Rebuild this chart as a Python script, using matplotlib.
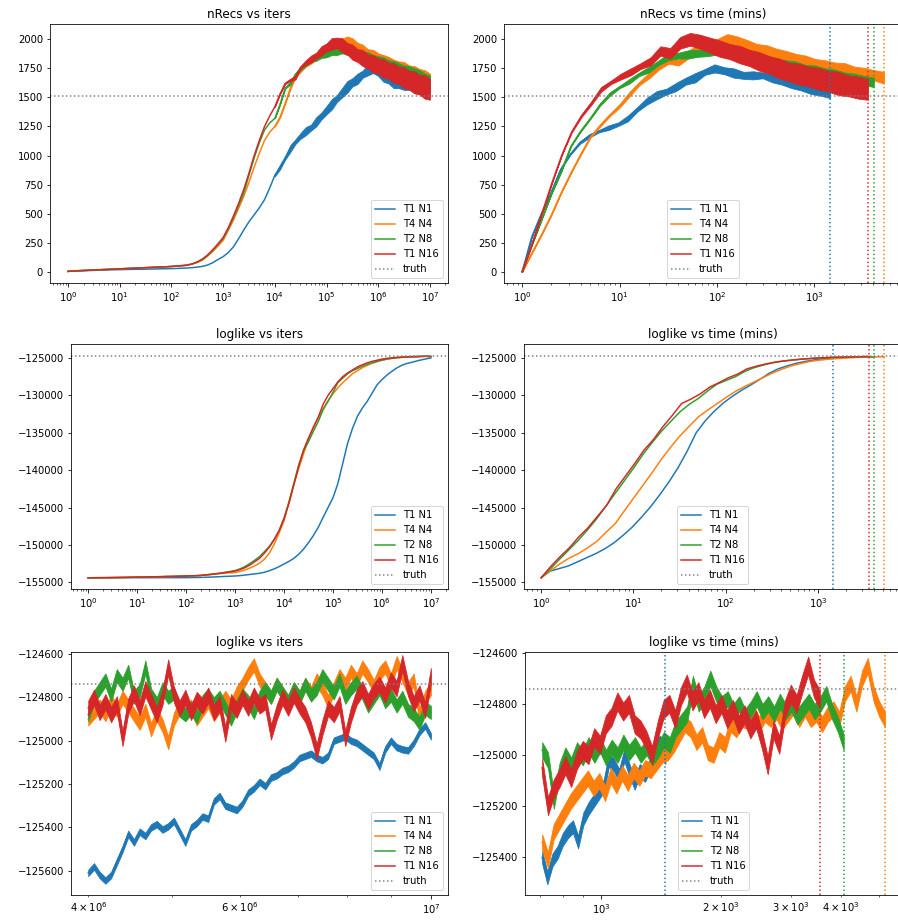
import numpy as np
import matplotlib.pyplot as plt

runs = ['T1 N1', 'T4 N4', 'T2 N8', 'T1 N16']
colors = ['C0', 'C1', 'C2', 'C3']
end_time = [1449, 5165, 4067, 3541]   # mins, end of each run
truth_nrecs = 1510
truth_loglike = -124740

# ---- nRecs vs iters: one value every 0.1 decade, 10^0 .. 10^7
nrecs_iter = [
    [3, 5, 6, 8, 10, 12, 13, 14, 16, 17,
     18, 19, 20, 21, 21, 22, 23, 24, 25, 26,
     27, 28, 30, 32, 35, 40, 46, 58, 78, 105,
     130, 165, 215, 285, 360, 430, 490, 550, 620, 720,
     830, 900, 980, 1060, 1120, 1170, 1210, 1240, 1290, 1340,
     1390, 1440, 1490, 1540, 1590, 1630, 1660, 1700, 1740, 1750,
     1720, 1680, 1650, 1630, 1620, 1610, 1600, 1590, 1580, 1575,
     1570],
    [3, 6, 9, 11, 13, 15, 17, 19, 21, 23,
     25, 27, 29, 31, 33, 35, 37, 39, 41, 43,
     45, 48, 51, 55, 65, 80, 100, 135, 175, 220,
     270, 355, 445, 545, 650, 770, 900, 1020, 1130, 1200,
     1250, 1330, 1450, 1580, 1680, 1740, 1780, 1820, 1850, 1890,
     1920, 1930, 1940, 1960, 1990, 1960, 1930, 1910, 1880, 1860,
     1840, 1820, 1800, 1785, 1765, 1750, 1735, 1720, 1700, 1680,
     1660],
    [3, 6, 9, 11, 13, 15, 17, 19, 21, 23,
     25, 27, 29, 31, 33, 35, 37, 39, 41, 43,
     45, 48, 52, 56, 66, 82, 105, 140, 185, 235,
     285, 370, 465, 570, 680, 830, 980, 1110, 1220, 1280,
     1320, 1440, 1580, 1620, 1700, 1750, 1790, 1820, 1840, 1860,
     1875, 1890, 1900, 1910, 1905, 1890, 1875, 1860, 1845, 1830,
     1815, 1800, 1785, 1770, 1755, 1740, 1725, 1710, 1690, 1670,
     1650],
    [3, 6, 9, 11, 13, 15, 17, 19, 21, 23,
     25, 27, 29, 31, 33, 35, 37, 39, 41, 43,
     46, 49, 53, 57, 68, 85, 110, 145, 190, 240,
     295, 380, 480, 590, 710, 850, 1000, 1130, 1250, 1340,
     1420, 1530, 1620, 1650, 1670, 1760, 1800, 1830, 1860, 1900,
     1930, 1960, 1970, 1950, 1920, 1890, 1860, 1840, 1810, 1790,
     1770, 1750, 1730, 1710, 1690, 1670, 1650, 1630, 1610, 1590,
     1570],
]
# half width of the noisy band, last 31 points (10^4 .. 10^7)
nrecs_iter_band = [
    [10, 20, 15, 30, 20, 25, 35, 25, 40, 30, 35, 45, 30, 40, 50, 35,
     45, 30, 50, 40, 35, 45, 30, 50, 40, 45, 35, 50, 40, 45, 35],
    [0, 0, 5, 10, 10, 20, 15, 30, 25, 35, 30, 40, 35, 45, 35, 50,
     40, 45, 35, 50, 40, 45, 50, 40, 45, 55, 40, 50, 45, 55, 45],
    [0, 0, 5, 10, 10, 15, 20, 15, 25, 20, 30, 25, 35, 30, 40, 30,
     40, 35, 45, 35, 40, 45, 35, 45, 40, 35, 45, 40, 45, 35, 40],
    [0, 0, 5, 10, 15, 10, 20, 30, 25, 40, 35, 50, 45, 60, 50, 65,
     55, 70, 60, 75, 65, 80, 70, 85, 75, 90, 80, 95, 85, 100, 90],
]

# ---- nRecs vs time: ~0.1 decade steps from 1 min to end_time
nrecs_time = [
    [0, 300, 500, 680, 880, 1010, 1110, 1170, 1210, 1240,
     1270, 1320, 1400, 1470, 1520, 1550, 1590, 1640, 1670, 1720,
     1750, 1730, 1710, 1690, 1690, 1690, 1670, 1640, 1615, 1590,
     1570, 1545, 1530],
    [0, 160, 320, 490, 680, 850, 1010, 1160, 1260, 1350,
     1430, 1530, 1620, 1690, 1760, 1820, 1800, 1870, 1920, 1950,
     1970, 2000, 1990, 1950, 1920, 1900, 1880, 1850, 1830, 1810,
     1790, 1770, 1755, 1740, 1720, 1705, 1690, 1670],
    [0, 230, 450, 670, 860, 1080, 1210, 1320, 1440, 1530,
     1590, 1640, 1700, 1740, 1800, 1850, 1860, 1870, 1880, 1890,
     1900, 1890, 1880, 1860, 1840, 1820, 1800, 1780, 1765, 1745,
     1730, 1710, 1695, 1680, 1660, 1645, 1630],
    [0, 240, 500, 760, 1000, 1200, 1340, 1450, 1570, 1630,
     1680, 1720, 1770, 1810, 1900, 1880, 1970, 2000, 1980, 1950,
     1920, 1895, 1870, 1840, 1810, 1780, 1750, 1720, 1700, 1680,
     1660, 1640, 1620, 1600, 1585, 1570],
]
nrecs_time_band = [
    [0, 0, 0, 0, 0, 5, 10, 15, 10, 20, 15, 25, 20, 30, 35, 25, 35,
     30, 40, 25, 35, 30, 40, 30, 35, 25, 40, 30, 35, 30, 40, 30, 35],
    [0, 0, 0, 0, 0, 0, 5, 5, 10, 10, 15, 20, 15, 25, 20, 30, 25, 35, 30,
     40, 35, 45, 35, 45, 40, 50, 40, 50, 45, 50, 40, 50, 45, 55, 45, 50, 45, 50],
    [0, 0, 0, 0, 0, 0, 5, 5, 10, 15, 10, 20, 15, 25, 20, 30, 25, 35, 30,
     35, 30, 40, 35, 40, 35, 45, 35, 40, 45, 35, 45, 40, 45, 35, 45, 40, 40],
    [0, 0, 0, 0, 0, 5, 10, 15, 20, 15, 25, 30, 25, 35, 40, 45, 50, 55,
     60, 65, 70, 65, 75, 70, 80, 75, 85, 80, 90, 85, 95, 90, 100, 90, 95, 90],
]

# ---- loglike vs iters: 0.1 decade steps, 10^0 .. 10^7
loglike_iter = [
    [-154400, -154395, -154395, -154390, -154390, -154390, -154385, -154385, -154385, -154380,
     -154380, -154380, -154380, -154380, -154380, -154375, -154375, -154375, -154375, -154370,
     -154370, -154360, -154350, -154340, -154320, -154300, -154270, -154240, -154210, -154180,
     -154150, -154100, -154030, -153950, -153870, -153790, -153650, -153450, -153200, -152900,
     -152550, -152200, -151800, -151250, -150550, -149700, -148750, -147650, -146300, -145000,
     -143700, -141800, -139100, -136400, -134400, -132800, -131700, -130800, -129700, -128600,
     -127900, -127300, -126800, -126350, -126000, -125750, -125600, -125420, -125260, -125120,
     -125000],
    [-154390, -154385, -154380, -154375, -154370, -154360, -154350, -154340, -154330, -154315,
     -154300, -154290, -154280, -154260, -154250, -154240, -154220, -154210, -154190, -154170,
     -154150, -154130, -154110, -154080, -154020, -153960, -153900, -153830, -153760, -153730,
     -153700, -153550, -153350, -153100, -152800, -152450, -151900, -151100, -149900, -148400,
     -146800, -144300, -141900, -139800, -137800, -135900, -134200, -133000, -131800, -130700,
     -129800, -129000, -128300, -127700, -127100, -126700, -126300, -126000, -125700, -125500,
     -125300, -125150, -125050, -124980, -124920, -124880, -124870, -124840, -124800, -124780,
     -124780],
    [-154390, -154385, -154380, -154375, -154370, -154360, -154350, -154340, -154330, -154315,
     -154300, -154290, -154280, -154260, -154250, -154240, -154220, -154210, -154190, -154170,
     -154150, -154130, -154110, -154080, -154000, -153930, -153850, -153760, -153650, -153550,
     -153430, -153200, -152900, -152500, -152050, -151560, -150900, -150200, -149250, -148100,
     -146400, -144300, -141800, -139300, -137400, -136200, -134800, -133500, -131900, -130800,
     -129600, -128300, -127700, -127100, -126700, -126400, -126100, -125850, -125650, -125450,
     -125300, -125150, -125050, -124970, -124910, -124860, -124800, -124790, -124780, -124770,
     -124860],
    [-154390, -154385, -154380, -154375, -154370, -154360, -154350, -154340, -154330, -154315,
     -154300, -154290, -154280, -154260, -154250, -154240, -154220, -154210, -154190, -154170,
     -154150, -154130, -154110, -154080, -154010, -153940, -153870, -153790, -153700, -153600,
     -153500, -153300, -153050, -152700, -152250, -151800, -151100, -150300, -149300, -148100,
     -146500, -144500, -142000, -139500, -137300, -135700, -134300, -132900, -131200, -130000,
     -129100, -128200, -127500, -127000, -126600, -126200, -125900, -125650, -125450, -125300,
     -125150, -125050, -124980, -124920, -124880, -124860, -124840, -124830, -124800, -124760,
     -124780],
]

# ---- loglike vs time: same time steps as nrecs_time
loglike_time = [
    [-154380, -153500, -153150, -152800, -152250, -151700, -151150, -150500, -149700, -148700,
     -147600, -146300, -144900, -143300, -141600, -139700, -137500, -135000, -133400, -132100,
     -131000, -130100, -129300, -128600, -127850, -127050, -126450, -126050, -125700, -125450,
     -125250, -125080, -124970],
    [-154380, -153450, -152550, -151780, -151160, -150400, -149530, -148300, -147150, -145400,
     -143700, -142000, -140300, -138500, -136900, -135400, -134100, -132850, -131950, -131100,
     -130250, -129450, -128800, -128200, -127600, -127000, -126500, -126050, -125750, -125470,
     -125300, -125170, -125080, -125000, -124930, -124890, -124860, -124830],
    [-154380, -153200, -151900, -150650, -149400, -148000, -146500, -144800, -143100, -141400,
     -139700, -137900, -136300, -134800, -133500, -132200, -131200, -130400, -129400, -128500,
     -128000, -127500, -126800, -126300, -125950, -125650, -125450, -125300, -125180, -125080,
     -125000, -124940, -124900, -124860, -124840, -124820, -124880],
    [-154380, -152900, -151600, -150400, -148950, -147700, -146200, -144700, -142500, -140800,
     -139100, -137300, -135900, -134200, -132700, -131100, -130500, -129800, -128900, -128300,
     -127650, -127150, -126450, -126100, -125800, -125550, -125380, -125250, -125130, -125050,
     -124980, -124920, -124880, -124850, -124830, -124800],
]

# ---- loglike tail vs iters, 4e6 .. 1e7 (61 log-spaced samples)
tail_iter_start = 4e6
tail_iter_end = 1e7
loglike_tail_iter = [
    [-125610, -125580, -125620, -125645, -125620, -125560, -125500, -125430, -125470, -125420,
     -125440, -125400, -125385, -125410, -125395, -125370, -125420, -125470, -125400, -125380,
     -125350, -125360, -125280, -125255, -125300, -125310, -125320, -125290, -125240, -125220,
     -125190, -125210, -125170, -125160, -125140, -125130, -125110, -125080, -125070, -125060,
     -125080, -125090, -125070, -125000, -124990, -124980, -125000, -125010, -125030, -125050,
     -125070, -125120, -125040, -125000, -125030, -125040, -125045, -125010, -124960, -124930,
     -124980],
    [-124900, -124870, -124840, -124880, -124820, -124860, -124800, -124840, -124880, -124920,
     -124860, -124950, -124880, -124930, -125010, -124900, -124850, -124880, -124840, -124900,
     -124860, -124820, -124880, -124840, -124800, -124840, -124780, -124740, -124690, -124650,
     -124720, -124760, -124800, -124740, -124780, -124820, -124760, -124800, -124740, -124780,
     -124720, -124760, -124820, -124760, -124700, -124740, -124680, -124720, -124660, -124700,
     -124750, -124690, -124660, -124720, -124640, -124700, -124760, -124720, -124880, -124800,
     -124760],
    [-124880, -124800, -124760, -124720, -124790, -124700, -124740, -124680, -124800, -124770,
     -124660, -124790, -124830, -124760, -124800, -124780, -124860, -124880, -124850, -124890,
     -124820, -124790, -124830, -124800, -124850, -124900, -124840, -124790, -124820, -124870,
     -124800, -124760, -124800, -124740, -124780, -124820, -124760, -124800, -124740, -124790,
     -124760, -124700, -124740, -124780, -124720, -124800, -124760, -124730, -124780, -124840,
     -124800, -124760, -124820, -124790, -124840, -124800, -124860, -124880, -124920, -124850,
     -124870],
    [-124850, -124800, -124870, -124820, -124880, -124830, -124990, -124840, -124780, -124850,
     -124760, -124820, -124880, -124800, -124660, -124790, -124850, -124800, -124870, -124810,
     -124840, -124790, -124870, -124830, -124970, -124820, -124860, -124800, -124850, -124790,
     -124840, -124820, -124960, -124870, -124800, -124850, -124790, -124840, -124880, -124950,
     -125050, -124940, -124850, -124880, -124830, -124990, -124880, -124800, -124760, -124820,
     -124770, -124740, -124790, -124720, -124760, -124640, -124760, -124830, -124780, -124860,
     -124700],
]
# half width of the fine noise around those tail traces
tail_iter_band = [15, 30, 30, 35]

# ---- loglike tail vs time, from 710 mins to end_time (log-spaced samples)
tail_time_start = 710
loglike_tail_time = [
    [-125400, -125480, -125410, -125380, -125330, -125300, -125280, -125340, -125250, -125210,
     -125180, -125150, -125120, -125020, -125040, -125080, -125000, -125060, -125110, -125060,
     -125080, -125040, -124960, -124950, -125010],
    [-125340, -125410, -125300, -125260, -125220, -125180, -125150, -125120, -125090, -125130,
     -125100, -125150, -125080, -125120, -125070, -125110, -125060, -125090, -125050, -125060,
     -125030, -125000, -124990, -124960, -124920, -124880, -124900, -124950, -124920, -124990,
     -125000, -124940, -124960, -124880, -124900, -124860, -124870, -124840, -124880, -124840,
     -124860, -124830, -124870, -124840, -124810, -124860, -124820, -124860, -124840, -124880,
     -124840, -124820, -124860, -124760, -124720, -124800, -124700, -124650, -124760, -124820,
     -124860],
    [-124980, -125020, -125180, -125060, -125000, -125040, -124980, -125010, -124960, -125000,
     -124960, -125010, -124970, -125000, -124950, -124990, -124960, -125000, -124970, -125010,
     -124980, -124940, -124960, -124900, -124870, -124840, -124720, -124800, -124760, -124700,
     -124760, -124800, -124780, -124830, -124800, -124850, -124820, -124780, -124830, -124800,
     -124840, -124790, -124830, -124800, -124850, -124820, -124790, -124830, -124800, -124760,
     -124830, -124880, -124950],
    [-125050, -125200, -125130, -125090, -125040, -125090, -125020, -124980, -125000, -124930,
     -124960, -124880, -124850, -124790, -124830, -124800, -124880, -124900, -124940, -125000,
     -124900, -124820, -124800, -124860, -124770, -124720, -124790, -124750, -124820, -124780,
     -124840, -124800, -124860, -124820, -124880, -124840, -124900, -124860, -124940, -125040,
     -124900, -124960, -124820, -124760, -124800, -124720, -124650, -124740, -124780],
]
tail_time_band = [25, 30, 30, 35]

W, H = 898, 922
fig = plt.figure(figsize=(W / 72, H / 72), dpi=72)


def box(l, t, r, b):
    return [l / W, 1 - b / H, (r - l) / W, (b - t) / H]


ax1 = fig.add_axes(box(50, 24, 448, 283))
ax2 = fig.add_axes(box(504, 24, 902, 283))
ax3 = fig.add_axes(box(71, 344, 448, 589))
ax4 = fig.add_axes(box(524, 344, 901, 589))
ax5 = fig.add_axes(box(71, 652, 448, 895))
ax6 = fig.add_axes(box(525, 652, 902, 895))

iters = np.geomspace(1, 1e7, 71)

for i in range(4):
    c = colors[i]
    # nRecs vs iters
    y = np.array(nrecs_iter[i])
    ax1.plot(iters, y, color=c, label=runs[i])
    hw = np.array(nrecs_iter_band[i])
    xb = iters[-len(hw):]
    yb = y[-len(hw):]
    ax1.fill_between(xb, yb - hw, yb + hw, color=c, lw=0.8, zorder=2)

    # nRecs vs time
    y = np.array(nrecs_time[i])
    t = np.geomspace(1, end_time[i], len(y))
    ax2.plot(t, y, color=c, label=runs[i])
    hw = np.array(nrecs_time_band[i])
    ax2.fill_between(t, y - hw, y + hw, color=c, lw=0.8, zorder=2)

    # loglike vs iters / time
    ax3.plot(iters, loglike_iter[i], color=c, label=runs[i])
    y = loglike_time[i]
    ax4.plot(np.geomspace(1, end_time[i], len(y)), y, color=c, label=runs[i])

    # tails
    y = np.array(loglike_tail_iter[i])
    x = np.geomspace(tail_iter_start, tail_iter_end, len(y))
    ax5.plot(x, y, color=c, label=runs[i])
    hw = tail_iter_band[i]
    ax5.fill_between(x, y - hw, y + hw, color=c, lw=0.8, zorder=2)

    y = np.array(loglike_tail_time[i])
    x = np.geomspace(tail_time_start, end_time[i], len(y))
    ax6.plot(x, y, color=c, label=runs[i])
    hw = tail_time_band[i]
    ax6.fill_between(x, y - hw, y + hw, color=c, lw=0.8, zorder=2)

for ax in (ax1, ax2):
    ax.axhline(truth_nrecs, color='gray', ls=':', label='truth')
for ax in (ax3, ax4, ax5, ax6):
    ax.axhline(truth_loglike, color='gray', ls=':', label='truth')
for ax in (ax2, ax4, ax6):
    for i in range(4):
        ax.axvline(end_time[i], color=colors[i], ls=':')

for ax in (ax1, ax2, ax3, ax4, ax5, ax6):
    ax.set_xscale('log')

ax1.set_xlim(10 ** -0.35, 10 ** 7.35)
ax3.set_xlim(10 ** -0.35, 10 ** 7.35)
ax2.set_xlim(10 ** -0.186, 10 ** 3.899)
ax4.set_xlim(10 ** -0.186, 10 ** 3.899)
ax5.set_xlim(10 ** 6.582, 10 ** 7.0199)
ax6.set_xlim(10 ** 2.808, 10 ** 3.756)

ax1.set_ylim(-97, 2132)
ax2.set_ylim(-97, 2132)
ax3.set_ylim(-155890, -123130)
ax4.set_ylim(-155890, -123130)
ax5.set_ylim(-125712, -124591)
ax6.set_ylim(-125547, -124597)

ax1.set_title('nRecs vs iters')
ax2.set_title('nRecs vs time (mins)')
ax3.set_title('loglike vs iters')
ax4.set_title('loglike vs time (mins)')
ax5.set_title('loglike vs iters')
ax6.set_title('loglike vs time (mins)')

for ax in (ax1, ax3, ax5):
    ax.legend(loc='lower right')
for ax in (ax2, ax4, ax6):
    ax.legend(loc='lower center')

fig.savefig('out.png', dpi=72)
